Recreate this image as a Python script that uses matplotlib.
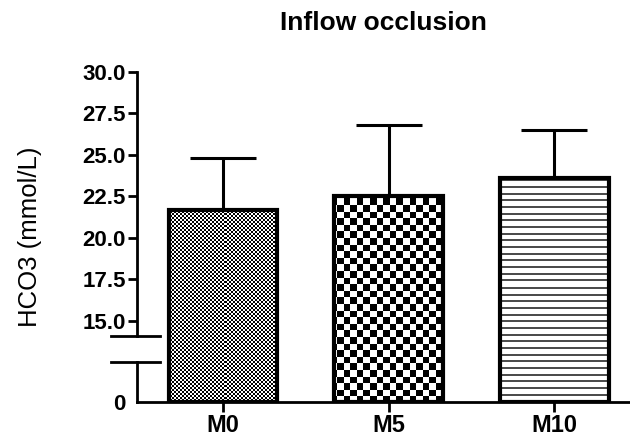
import numpy as np
import matplotlib
matplotlib.use('Agg')
import matplotlib.pyplot as plt
from matplotlib.transforms import IdentityTransform, blended_transform_factory

plt.rcParams['font.family'] = ['Liberation Sans', 'DejaVu Sans']

groups = ['M0', 'M5', 'M10']
means = [21.7, 22.5, 23.6]
sd = [3.1, 4.3, 2.9]
yticks = [0, 15.0, 17.5, 20.0, 22.5, 25.0, 27.5, 30.0]
ytick_labels = ['0'] + ['%.1f' % t for t in yticks[1:]]

# broken axis: 0..brk_hi squeezed into the bottom part
brk_lo, brk_hi = 8.5, 14.1

def fwd(y):
    y = np.asarray(y, float)
    return np.where(y < brk_hi, y * 66.3 / brk_hi, 66.3 + (y - brk_hi) * 16.6)

def inv(z):
    z = np.asarray(z, float)
    return np.where(z < 66.3, z * brk_hi / 66.3, brk_hi + (z - 66.3) / 16.6)

W, H = 630, 443
fig = plt.figure(figsize=(W / 100, H / 100), dpi=100)
ax = fig.add_axes([137 / W, 41 / H, 493 / W, 330.3 / H])
ax.set_yscale('function', functions=(fwd, inv))

x = np.arange(len(groups))
bars = ax.bar(x, means, width=0.655, facecolor='none', edgecolor='black',
              linewidth=3, zorder=3)
ax.errorbar(x, means, yerr=[np.zeros(len(sd)), sd], fmt='none', ecolor='black',
            elinewidth=2.2, capsize=23.8, capthick=2.2, zorder=1)

# fill patterns in screen pixels
ii, jj = np.mgrid[0:H, 0:W]
fine = ((ii // 2 + jj // 2) % 2).astype(float)
coarse = ((np.floor(ii / 6.6) + np.floor(jj / 6.6)) % 2).astype(float)
hlines = np.where((ii % 6.67) < 2, 0.3, 1.0)
for b, pat in zip(bars, [fine, coarse, hlines]):
    im = ax.imshow(pat, cmap='gray', vmin=0, vmax=1, extent=(0, W, 0, H),
                   origin='lower', transform=IdentityTransform(),
                   interpolation='nearest', aspect='auto', zorder=2)
    im.set_clip_path(b)

ax.set_xlim(-0.519, 2.456)
ax.set_ylim(0, 30)

for s in ['top', 'right']:
    ax.spines[s].set_visible(False)
ax.spines['left'].set_linewidth(2)
ax.spines['bottom'].set_linewidth(2)
ax.spines['left'].set_bounds(brk_hi, 30)

tr = blended_transform_factory(ax.transAxes, ax.transData)
ax.plot([0, 0], [0, brk_lo], color='black', lw=2, transform=tr, clip_on=False)
for yb in [brk_lo, brk_hi]:
    ax.plot([-0.053, 0.047], [yb, yb], color='black', lw=2, transform=tr,
            clip_on=False)

ax.set_yticks(yticks, ytick_labels)
ax.yaxis.get_major_ticks()[0].tick1line.set_visible(False)
ax.set_xticks(x, groups)
ax.tick_params(axis='y', length=6.5, width=2, pad=1.5, labelsize=16)
ax.tick_params(axis='x', length=7, width=2, pad=1.5, labelsize=17)
for lbl in ax.get_yticklabels() + ax.get_xticklabels():
    lbl.set_fontweight('bold')

ax.set_ylabel('HCO3 (mmol/L)', fontsize=18.5)
ax.yaxis.set_label_coords(-0.192, 0.5)
ax.set_title('Inflow occlusion', fontsize=19, fontweight='bold', pad=30)

fig.savefig('out.png', dpi=100)
